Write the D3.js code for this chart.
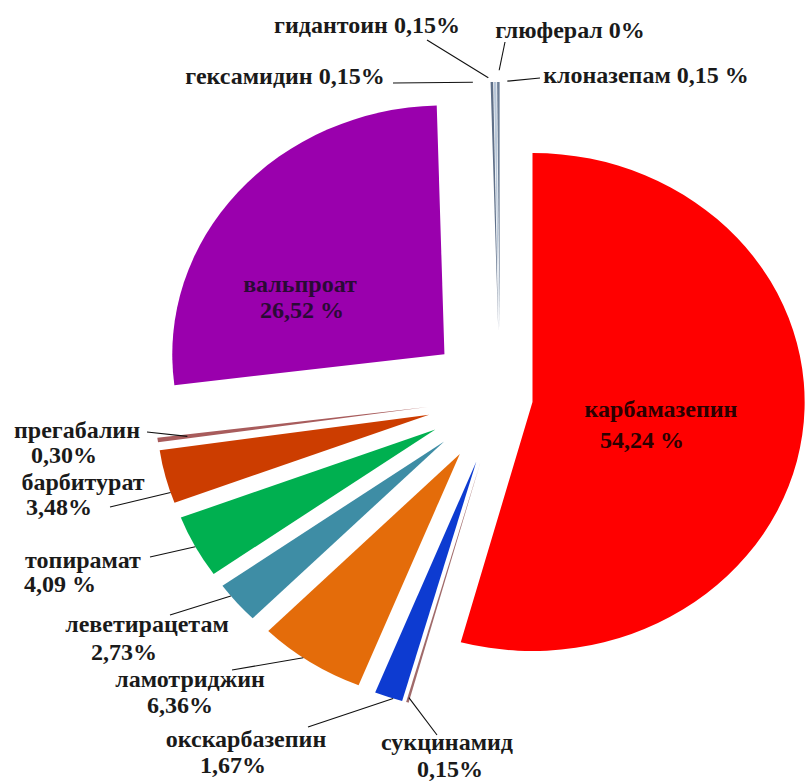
<!DOCTYPE html>
<html>
<head>
<meta charset="utf-8">
<script src="https://cdn.jsdelivr.net/npm/d3@7"></script>
<style>
  html, body { margin: 0; padding: 0; background: #fff; }
</style>
</head>
<body>
<svg id="chart" width="806" height="781"></svg>
<script>
// Antiepileptic drugs, share of prescriptions (%), clockwise from 12 o'clock
const drugs = ["карбамазепин", "сукцинамид", "окскарбазепин", "ламотриджин", "леветирацетам",
               "топирамат", "барбитурат", "прегабалин", "вальпроат", "гексамидин",
               "гидантоин", "глюферал", "клоназепам"];
const shares = [54.24, 0.15, 1.67, 6.36, 2.73, 4.09, 3.48, 0.30, 26.52, 0.15, 0.15, 0, 0.15];
const shareText = ["54,24 %", "0,15%", "1,67%", "6,36%", "2,73%", "4,09 %", "3,48%", "0,30%",
                   "26,52 %", "0,15%", "0,15%", "0%", "0,15 %"];

// Styling
const colors = ["#ff0000", "#a06a6a", "#0d3bd1", "#e46c0a", "#3e8da5", "#00b050", "#cc3d00",
                "#a85c5c", "#9a00ad", "#5f7089", "#b7c6d8", "#8796ab", "#6e7f97"];
const explode = [30, 67, 67, 67, 67, 67, 67, 67, 67, 67, 67, 67, 67];
const fontFamily = "Times New Roman, Times, Liberation Serif, DejaVu Serif, serif";

// Label placement: text lines (centre x, baseline y), leader line from slice to label
const labelLayout = [
  { lines: [[661, 417, "name"], [642, 448, "value"]], fill: "#2a0000" },
  { lines: [[447, 750, "name"], [450, 777, "value"]], leader: { t: 0.5, k: 0.98, to: [437, 735], gap: 0 } },
  { lines: [[246, 747, "name"], [233, 773, "value"]], leader: { t: 0.33, k: 1, to: [308, 727], gap: 0 } },
  { lines: [[190, 687, "name"], [180, 713, "value"]], leader: { t: 0.58, k: 1, to: [232, 670], gap: 0 } },
  { lines: [[147, 632, "name"], [124, 660, "value"]], leader: { t: 0.7, k: 1, to: [170, 615], gap: 0 } },
  { lines: [[83, 568, "name"], [60, 592, "value"]], leader: { t: 0.5, k: 1, to: [150, 557], gap: 0 } },
  { lines: [[83, 490, "name"], [59, 515, "value"]], leader: { t: 0.2, k: 1, to: [110, 507], gap: 0 } },
  { lines: [[77, 438, "name"], [64, 463, "value"]], leader: { t: 0.5, k: 0.89, to: [147, 432], gap: 0 } },
  { lines: [[300, 292, "name"], [302, 318, "value"]], fill: "#2a0a35" },
  { lines: [[285, 84, "both"]], leader: { t: 0.5, k: 1, to: [393, 83], gap: 19 } },
  { lines: [[367, 33, "both"]], leader: { t: 0.5, k: 1, to: [427, 40], gap: 8 } },
  { lines: [[570, 38, "both"]], leader: { t: 0.5, k: 1, to: [505, 42], gap: 12 } },
  { lines: [[646, 83, "both"]], leader: { t: 0.5, k: 1, to: [540, 78], gap: 9 } }
];

const cx = 500, cy = 398, R = 249, sx = 1.093;

const svg = d3.select("#chart");

const pie = d3.pie().sort(null).value(d => d.share)
  .startAngle(0).endAngle(2 * Math.PI);
const rows = drugs.map((name, i) => ({ name, share: shares[i], label: shareText[i], i }));
const arcs = pie(rows);
const arc = d3.arc().innerRadius(0).outerRadius(R);

// Slice offset along its bisector (pie coordinates, before horizontal stretch)
function offsetOf(a) {
  const mid = (a.startAngle + a.endAngle) / 2;
  const d = explode[a.data.i];
  return [d * Math.sin(mid), -d * Math.cos(mid)];
}
// Pie coordinates -> screen
function toScreen(p) { return [cx + sx * p[0], cy + p[1]]; }

const pieG = svg.append("g").attr("transform", `translate(${cx},${cy}) scale(${sx},1)`);

pieG.selectAll("path")
  .data(arcs)
  .join("path")
  .attr("d", arc)
  .attr("fill", d => colors[d.data.i])
  .attr("transform", d => { const o = offsetOf(d); return `translate(${o[0]},${o[1]})`; });

// Leader lines
const leaderG = svg.append("g").attr("stroke", "#111").attr("stroke-width", 1.1).attr("fill", "none");
arcs.forEach(a => {
  const lay = labelLayout[a.data.i];
  if (!lay.leader) return;
  const L = lay.leader;
  const ang = a.startAngle + L.t * (a.endAngle - a.startAngle);
  const o = offsetOf(a);
  const s = toScreen([o[0] + L.k * R * Math.sin(ang), o[1] - L.k * R * Math.cos(ang)]);
  const e = L.to;
  const len = Math.hypot(e[0] - s[0], e[1] - s[1]);
  const f = L.gap / len;
  leaderG.append("line")
    .attr("x1", s[0] + (e[0] - s[0]) * f).attr("y1", s[1] + (e[1] - s[1]) * f)
    .attr("x2", e[0]).attr("y2", e[1]);
});

// Text labels
const textG = svg.append("g")
  .attr("text-anchor", "middle")
  .attr("font-family", fontFamily)
  .attr("font-weight", "bold")
  .attr("font-size", 24);
arcs.forEach(a => {
  const lay = labelLayout[a.data.i];
  lay.lines.forEach(([x, y, kind]) => {
    const str = kind === "name" ? a.data.name
              : kind === "value" ? a.data.label
              : a.data.name + " " + a.data.label;
    textG.append("text")
      .attr("x", x).attr("y", y)
      .attr("fill", lay.fill || "#1a1a1a")
      .text(str);
  });
});
</script>
</body>
</html>
